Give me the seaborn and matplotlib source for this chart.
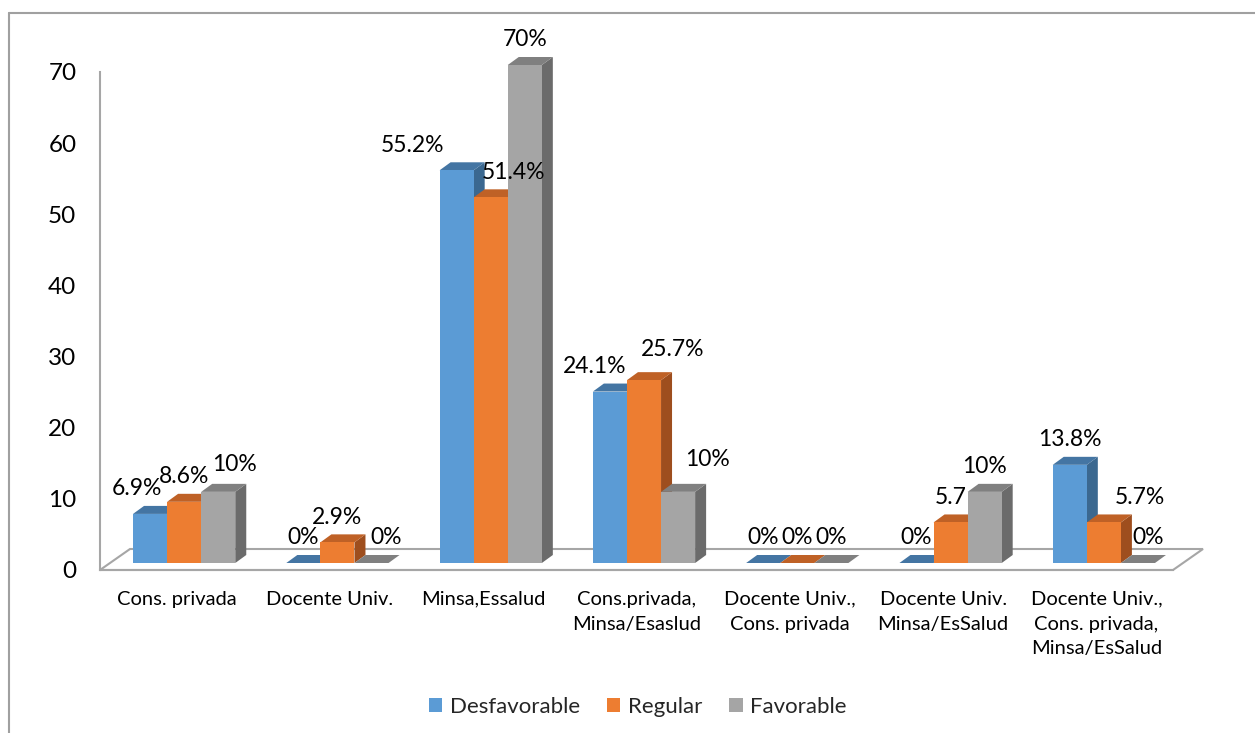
import numpy as np
import pandas as pd
import matplotlib
matplotlib.use("Agg")
import matplotlib.pyplot as plt
import seaborn as sns
from matplotlib.patches import Polygon, Rectangle
from matplotlib.lines import Line2D
from matplotlib.ticker import FixedLocator

# ---------------- data ----------------
categories = [
    "Cons. privada",
    "Docente Univ.",
    "Minsa,Essalud",
    "Cons.privada,\nMinsa/Esaslud",
    "Docente Univ.,\nCons. privada",
    "Docente Univ.\nMinsa/EsSalud",
    "Docente Univ.,\nCons. privada,\nMinsa/EsSalud",
]
series = ["Desfavorable", "Regular", "Favorable"]
desfavorable = [6.9, 0, 55.2, 24.1, 0, 0, 13.8]
regular = [8.6, 2.9, 51.4, 25.7, 0, 5.7, 5.7]
favorable = [10, 0, 70, 10, 0, 10, 0]
label_desfavorable = ["6.9%", "0%", "55.2%", "24.1%", "0%", "0%", "13.8%"]
label_regular = ["8.6%", "2.9%", "51.4%", "25.7%", "0%", "5.7", "5.7%"]
label_favorable = ["10%", "0%", "70%", "10%", "0%", "10%", "0%"]
y_ticks = [0, 10, 20, 30, 40, 50, 60, 70]

# ---------------- style ----------------
front_colors = ["#5B9BD5", "#ED7D31", "#A5A5A5"]
top_colors = ["#4475A3", "#BF6126", "#808080"]
side_colors = ["#3B6890", "#9E4E1E", "#6B6B6B"]
axis_gray = "#A6A6A6"
# label nudges in pixels (dx, dy) keyed by (category index, series index)
label_nudge = {
    (0, 0): (-13, 0), (0, 2): (16, 2), (1, 2): (15, 0),
    (2, 0): (-44, 0), (2, 1): (23, 0),
    (3, 0): (-15, 0), (3, 1): (29, 6), (3, 2): (29, 7),
    (6, 1): (36, 0), (6, 2): (10, 0),
}

sns.set_style("white")
plt.rcParams["font.family"] = ["Lato", "DejaVu Sans"]

df = pd.DataFrame({
    "Category": categories * 3,
    "Series": [series[0]] * 7 + [series[1]] * 7 + [series[2]] * 7,
    "Value": desfavorable + regular + favorable,
})
labels_all = [label_desfavorable, label_regular, label_favorable]

W, H = 1255, 733
fig = plt.figure(figsize=(W / 100, H / 100), dpi=100)
ax_left, ax_bottom, ax_w, ax_h = 100, 163, 1073, 498
ax = fig.add_axes([ax_left / W, ax_bottom / H, ax_w / W, ax_h / H])

sns.barplot(data=df, x="Category", y="Value", hue="Series", order=categories,
            hue_order=series, palette=front_colors, width=0.667, saturation=1,
            errorbar=None, legend=False, ax=ax)

ax.set_xlim(-0.5, len(categories) - 0.5)
ax.set_ylim(0, 70)
ux = (len(categories)) / ax_w   # data units per pixel (x)
uy = 70 / ax_h                  # data units per pixel (y)

# floor
fdx, fdy = 30 * ux, 21 * uy
x_lo, x_hi = -0.5, len(categories) - 0.5
floor = Polygon([(x_lo, 0), (x_hi, 0), (x_hi + fdx, fdy), (x_lo + fdx, fdy)],
                closed=True, fc="white", ec=axis_gray, lw=1.5, zorder=1, clip_on=False)
ax.add_patch(floor)

# 3D bars
front_dx, front_dy = 7.5 * ux, 7 * uy
ddx, ddy = 11 * ux, 8 * uy
bars = sorted([p for p in ax.patches if isinstance(p, Rectangle) and p is not floor],
              key=lambda p: p.get_x())
for i, p in enumerate(bars):
    cat, s = i // 3, i % 3
    w = p.get_width()
    h = p.get_height()
    x0 = p.get_x() + front_dx
    y0 = front_dy
    z = 3 + i * 0.01
    p.set_x(x0)
    p.set_y(y0)
    p.set_clip_on(False)
    p.set_zorder(z + 0.002)
    p.set_edgecolor("none")
    p.set_linewidth(0)
    top = Polygon([(x0, y0 + h), (x0 + w, y0 + h), (x0 + w + ddx, y0 + h + ddy),
                   (x0 + ddx, y0 + h + ddy)], closed=True, fc=top_colors[s],
                  ec="none", zorder=z + 0.001, clip_on=False)
    side = Polygon([(x0 + w, y0), (x0 + w + ddx, y0 + ddy), (x0 + w + ddx, y0 + h + ddy),
                    (x0 + w, y0 + h)], closed=True, fc=side_colors[s],
                   ec="none", zorder=z, clip_on=False)
    ax.add_patch(side)
    ax.add_patch(top)
    ndx, ndy = label_nudge.get((cat, s), (0, 0))
    ax.annotate(labels_all[s][cat], (x0 + w / 2, y0 + h), xytext=(ndx, 25 + ndy),
                textcoords="offset pixels", ha="center", va="center",
                fontsize=16.5, color="black", annotation_clip=False, zorder=20)

# axes styling
for sp in ["top", "right"]:
    ax.spines[sp].set_visible(False)
for sp in ["left", "bottom"]:
    ax.spines[sp].set_color(axis_gray)
    ax.spines[sp].set_linewidth(1.5)
    ax.spines[sp].set_zorder(2)

ax.set_yticks(y_ticks)
ax.tick_params(axis="y", direction="out", length=5, width=1.5, color=axis_gray,
               pad=12, labelsize=17.5, labelcolor="black")
ax.set_xticks(range(len(categories)))
ax.set_xticklabels(categories, fontsize=14.5, linespacing=1.55)
ax.tick_params(axis="x", which="major", length=0, pad=15, labelcolor="black")
ax.xaxis.set_minor_locator(FixedLocator(np.arange(-0.5, len(categories), 1)))
ax.tick_params(axis="x", which="minor", direction="out", length=5, width=1.5, color=axis_gray)
ax.set_xlabel("")
ax.set_ylabel("")
ax.grid(False)

# legend
handles = [Rectangle((0, 0), 1, 1, fc=c, ec="none") for c in front_colors]
fig.legend(handles, series, loc="center", bbox_to_anchor=(638 / W, 26 / H), ncol=3,
           frameon=False, fontsize=16, handlelength=0.6, handleheight=0.6,
           handletextpad=0.35, columnspacing=1.2)

# chart border (left and top)
fig.add_artist(Line2D([9 / W, 9 / W], [0, 1 - 13 / H], color="#A0A0A0", lw=1.5))
fig.add_artist(Line2D([9 / W, 1], [1 - 13 / H, 1 - 13 / H], color="#A0A0A0", lw=1.5))

fig.savefig("out.png", dpi=100)
